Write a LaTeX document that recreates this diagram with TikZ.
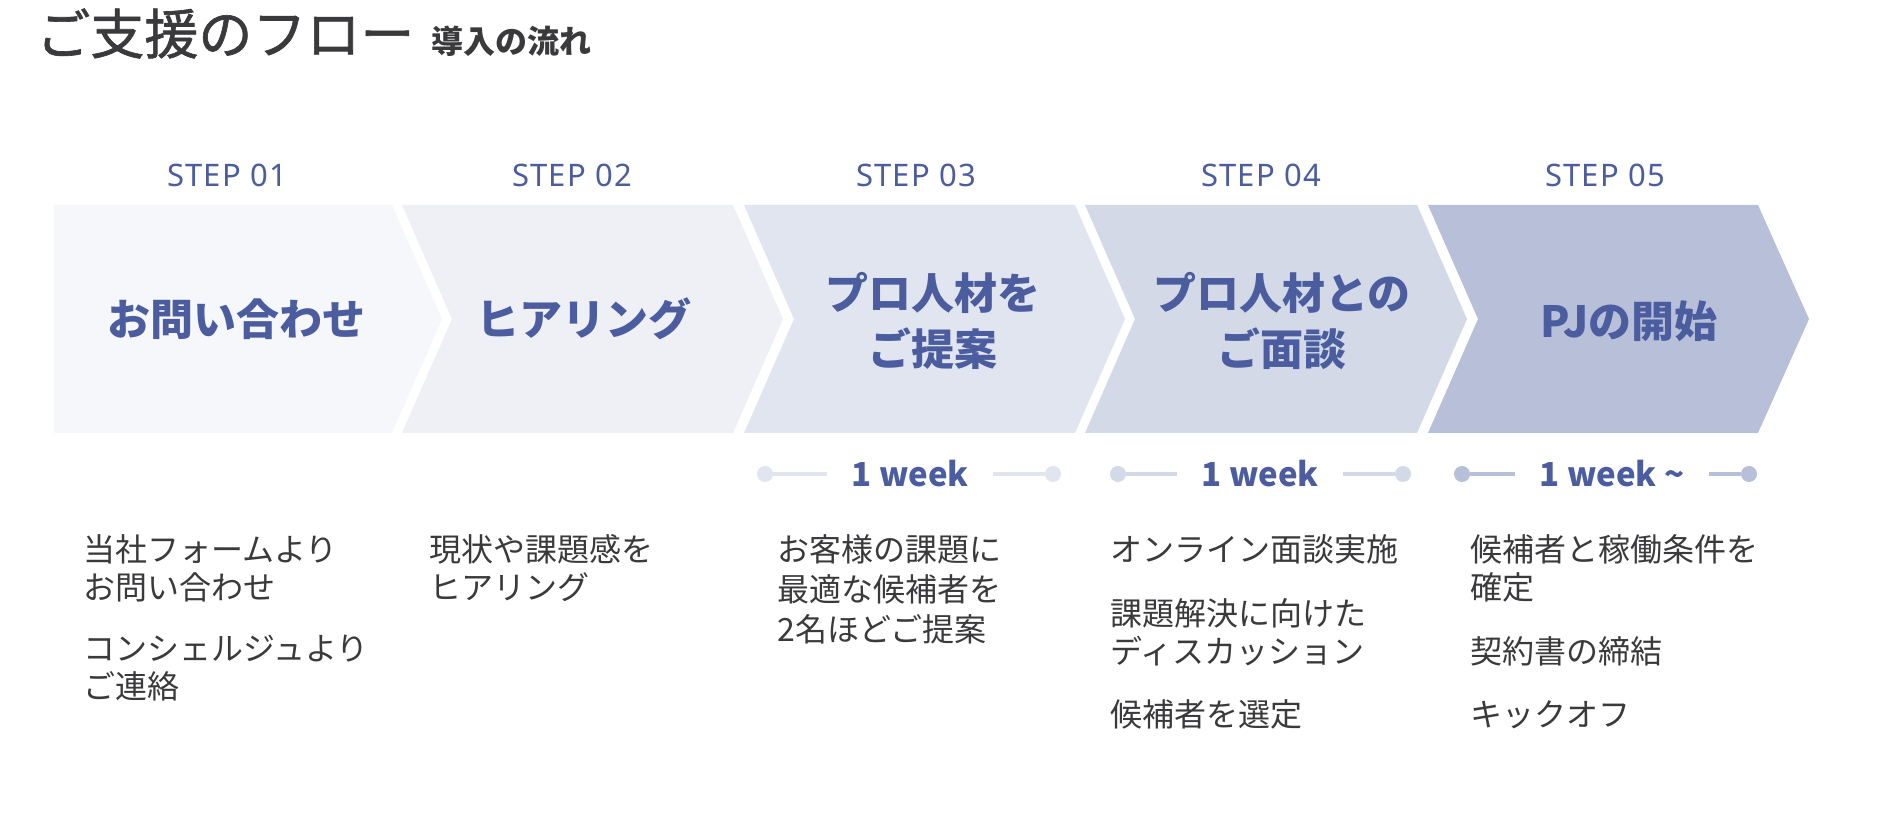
\documentclass[tikz,border=0pt]{standalone}
\usepackage{fontspec}
\setmainfont{Noto Sans CJK JP}
\newfontfamily\titlefont[FakeBold=1.2]{Noto Sans CJK JP}
\newfontfamily\steplatin[LetterSpace=4]{Noto Sans}
\usetikzlibrary{positioning,calc}

\definecolor{ink}{HTML}{3A3A3C}
\definecolor{navy}{HTML}{4B5D9E}
\definecolor{stepA}{HTML}{F6F7FB}
\definecolor{stepB}{HTML}{EEF0F6}
\definecolor{stepC}{HTML}{E1E5F0}
\definecolor{stepD}{HTML}{D3D9E7}
\definecolor{stepE}{HTML}{B7C0D8}

\begin{document}
\begin{tikzpicture}[x=0.5pt, y=-0.5pt]
    \tikzset{title/.style={anchor=base west, inner sep=0, text=ink}}
    \tikzset{steplbl/.style={anchor=base, inner sep=0, text=navy, font=\steplatin\fontsize{15.5}{18}\selectfont}}
    \tikzset{phase/.style={align=center, inner sep=0, text=navy, font=\bfseries\fontsize{21.5}{28}\selectfont}}
    \tikzset{week/.style={inner xsep=12pt, inner ysep=0, text=navy, font=\bfseries\fontsize{16.5}{20}\selectfont}}
    \tikzset{dot/.style={circle, inner sep=0, minimum size=8pt}}
    \tikzset{span/.style={line width=2pt}}
    \tikzset{item/.style={anchor=base west, align=left, inner sep=0, text=ink, font=\fontsize{16}{19}\selectfont}}

    \useasboundingbox[fill=white] (0,0) rectangle (1880,838);

    % Title
    \node[title, font=\titlefont\fontsize{27}{30}\selectfont] (title) at (36,54) {ご支援のフロー};
    \node[title, font=\bfseries\fontsize{16}{18}\selectfont] (subtitle) at (431,54) {導入の流れ};

    % Chevrons
    \fill[stepA] (54,205) -- (392,205) -- (442,319) -- (392,433) -- (54,433) -- cycle;
    \fill[stepB] (402,205) -- (733,205) -- (783,319) -- (733,433) -- (402,433) -- (452,319) -- cycle;
    \fill[stepC] (744,205) -- (1075,205) -- (1125,319) -- (1075,433) -- (744,433) -- (794,319) -- cycle;
    \fill[stepD] (1085,205) -- (1417,205) -- (1467,319) -- (1417,433) -- (1085,433) -- (1135,319) -- cycle;
    \fill[stepE] (1428,205) -- (1758,205) -- (1809,319) -- (1758,433) -- (1428,433) -- (1478,319) -- cycle;

    % Step numbers
    \node[steplbl] (s1) at (227,187) {STEP 01};
    \node[steplbl] (s2) at (572,187) {STEP 02};
    \node[steplbl] (s3) at (916,187) {STEP 03};
    \node[steplbl] (s4) at (1261,187) {STEP 04};
    \node[steplbl] (s5) at (1605,187) {STEP 05};

    % Phases
    \node[phase] (contact) at (236,319) {お問い合わせ};
    \node[phase] (hearing) at (584,319) {ヒアリング};
    \node[phase] (propose) at (933,321) {プロ人材を\\ご提案};
    \node[phase] (meeting) at (1282,321) {プロ人材との\\ご面談};
    \node[phase] (kickoff) at (1629,321) {PJの開始};

    % Durations
    \node[week] (wk3) at (910,474) {1 week};
    \node[dot, fill=stepC] (d3a) at (765,474) {};
    \node[dot, fill=stepC] (d3b) at (1053,474) {};
    \draw[span, stepC] (d3a) -- (wk3);
    \draw[span, stepC] (wk3) -- (d3b);

    \node[week] (wk4) at (1260,474) {1 week};
    \node[dot, fill=stepD] (d4a) at (1118,474) {};
    \node[dot, fill=stepD] (d4b) at (1403,474) {};
    \draw[span, stepD] (d4a) -- (wk4);
    \draw[span, stepD] (wk4) -- (d4b);

    \node[week] (wk5) at (1612,474) {1 week \textasciitilde};
    \node[dot, fill=stepE] (d5a) at (1462,474) {};
    \node[dot, fill=stepE] (d5b) at (1749,474) {};
    \draw[span, stepE] (d5a) -- (wk5);
    \draw[span, stepE] (wk5) -- (d5b);

    % Details (base = last line)
    \node[item] (t1a) at (83,600) {当社フォームより\\お問い合わせ};
    \node[item] (t1b) at (83,699) {コンシェルジュより\\ご連絡};
    \node[item] (t2a) at (429,600) {現状や課題感を\\ヒアリング};
    \node[item] (t3a) at (777,642) {お客様の課題に\\[1pt]最適な候補者を\\[1pt]2名ほどご提案};
    \node[item] (t4a) at (1110,562) {オンライン面談実施};
    \node[item] (t4b) at (1110,664) {課題解決に向けた\\ディスカッション};
    \node[item] (t4c) at (1110,727) {候補者を選定};
    \node[item] (t5a) at (1470,600) {候補者と稼働条件を\\確定};
    \node[item] (t5b) at (1470,664) {契約書の締結};
    \node[item] (t5c) at (1470,727) {キックオフ};
\end{tikzpicture}
\end{document}
